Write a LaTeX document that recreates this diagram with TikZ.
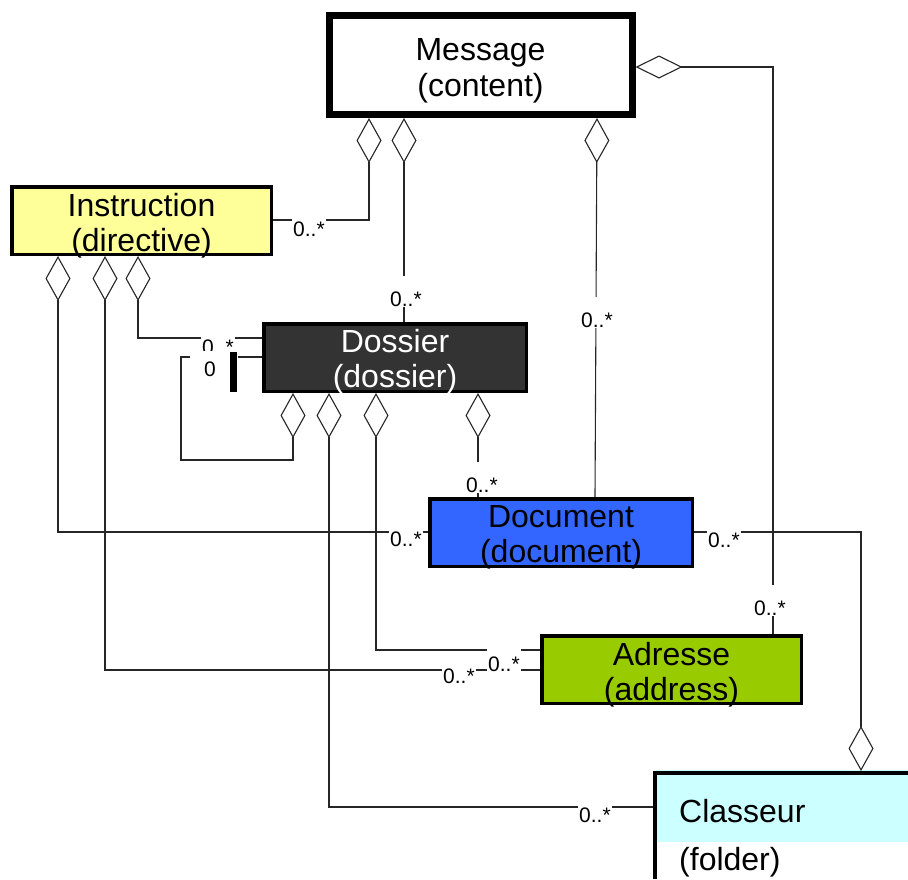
\documentclass[tikz,border=0pt]{standalone}
\usepackage{fontspec}
\setmainfont{Liberation Sans}
\usetikzlibrary{arrows.meta}
\definecolor{instrc}{HTML}{FFFF99}
\definecolor{dossierc}{HTML}{333333}
\definecolor{docc}{HTML}{3366FF}
\definecolor{adrc}{HTML}{99CC00}
\definecolor{classc}{HTML}{CCFFFF}
\begin{document}
\begin{tikzpicture}[x=1pt,y=-1pt,
  box/.style={draw=black, line width=3.5pt, inner sep=0pt,
    minimum width=259.5pt, minimum height=67.5pt},
  boxtext/.style={inner sep=0pt, align=center, font=\fontsize{32}{35}\selectfont},
  conn/.style={line width=1.1pt, draw=black!85},
  agg/.style={conn, {Diamond[fill=white,length=45pt,width=25pt]}-},
  aggh/.style={conn, {Diamond[fill=white,length=47pt,width=23pt]}-},
  aggend/.style={conn, -{Diamond[fill=white,length=45pt,width=25pt]}},
  mult/.style={fill=white, inner sep=1pt, font=\fontsize{21}{21}\selectfont,
    text height=29pt, text depth=-4pt, anchor=base west},
  bigtext/.style={inner sep=0pt, anchor=base west, font=\fontsize{32}{34}\selectfont},
]
\useasboundingbox (0,0) rectangle (908,879);

% boxes
\node[box, line width=7pt, minimum width=303pt, minimum height=99pt] (message) at (480.5,65) {};
\node[box, fill=instrc] (instruction) at (141.5,220.5) {};
\node[box, fill=dossierc, minimum width=262.5pt] (dossier) at (395,357.5) {};
\node[box, fill=docc, minimum width=262.5pt] (document) at (561,532.5) {};
\node[box, fill=adrc] (adresse) at (671.5,669.5) {};

\node[boxtext, font=\fontsize{32}{36}\selectfont] (messagetext) at ([yshift=-6pt]message.center) {Message\\(content)};
\node[boxtext] (instructiontext) at ([yshift=-5pt]instruction.center) {Instruction\\(directive)};
\node[boxtext, text=white] (dossiertext) at ([yshift=-4pt]dossier.center) {Dossier\\(dossier)};
\node[boxtext] (documenttext) at ([yshift=-5pt]document.center) {Document\\(document)};
\node[boxtext] (adressetext) at ([yshift=-5pt]adresse.center) {Adresse\\(address)};

% Classeur (partly outside the picture)
\fill[classc] (656,770) rectangle (908,842);
\node[inner sep=0pt, outer sep=0pt, minimum width=255pt, minimum height=108pt, anchor=north west] (classeur) at (653,771) {};
\draw[line width=3.5pt] (654.75,879) -- (654.75,772.75) -- (908,772.75);
\node[bigtext] (classeurname) at (679,822) {Classeur};
\node[bigtext] (classeursub) at (679,870) {(folder)};

% connectors from Message
\draw[agg] (369,0 |- message.south) -- (369,220) -- (instruction.east |- 0,220);
\draw[agg] (404,0 |- message.south) -- (404,0 |- dossier.north);
\draw[agg] (597,0 |- message.south) -- (595,0 |- document.north);
\draw[aggh] (message.east |- 0,67) -- (773,67) -- (773,0 |- adresse.north);

% connectors from Instruction
\draw[agg] (58,0 |- instruction.south) -- (58,532) -- (document.west |- 0,532);
\draw[agg] (105,0 |- instruction.south) -- (105,670) -- (adresse.west |- 0,670);
\draw[agg] (138,0 |- instruction.south) -- (138,338) -- (dossier.west |- 0,338);

% connectors from Dossier
\draw[agg] (293,0 |- dossier.south) -- (293,460) -- (181,460) -- (181,357) -- (dossier.west |- 0,357);
\draw[agg] (329,0 |- dossier.south) -- (329,807) -- (classeur.west |- 0,807);
\draw[agg] (376,0 |- dossier.south) -- (376,650) -- (adresse.west |- 0,650);
\draw[agg] (478,0 |- dossier.south) -- (478,0 |- document.north);

% Document to Classeur
\draw[aggend] (document.east |- 0,532) -- (861,532) -- (861,0 |- classeur.north);

% multiplicities
\node[mult] (m1) at (292,236) {0..*};
\node[mult] (m2) at (389,306) {0..*};
\node[mult] (m3) at (580,327) {0..*};
\node[mult] (m4) at (465,492) {0..*};
\node[mult] (m5) at (389,546) {0..*};
\node[mult] (m6) at (707,547) {0..*};
\node[mult] (m7) at (753,615) {0..*};
\node[mult] (m8) at (487,671) {0..*};
\node[mult] (m9) at (442,683) {0..*};
\node[mult] (m10) at (578,822) {0..*};
\node[mult] (m11) at (201,354) {0..*};
\fill[white] (190,351) rectangle (238,373);
\node[inner sep=0pt, anchor=base west, font=\fontsize{21}{21}\selectfont] (m12) at (204,376) {0};
\fill[black] (230,352) rectangle (237,392);
\end{tikzpicture}
\end{document}
